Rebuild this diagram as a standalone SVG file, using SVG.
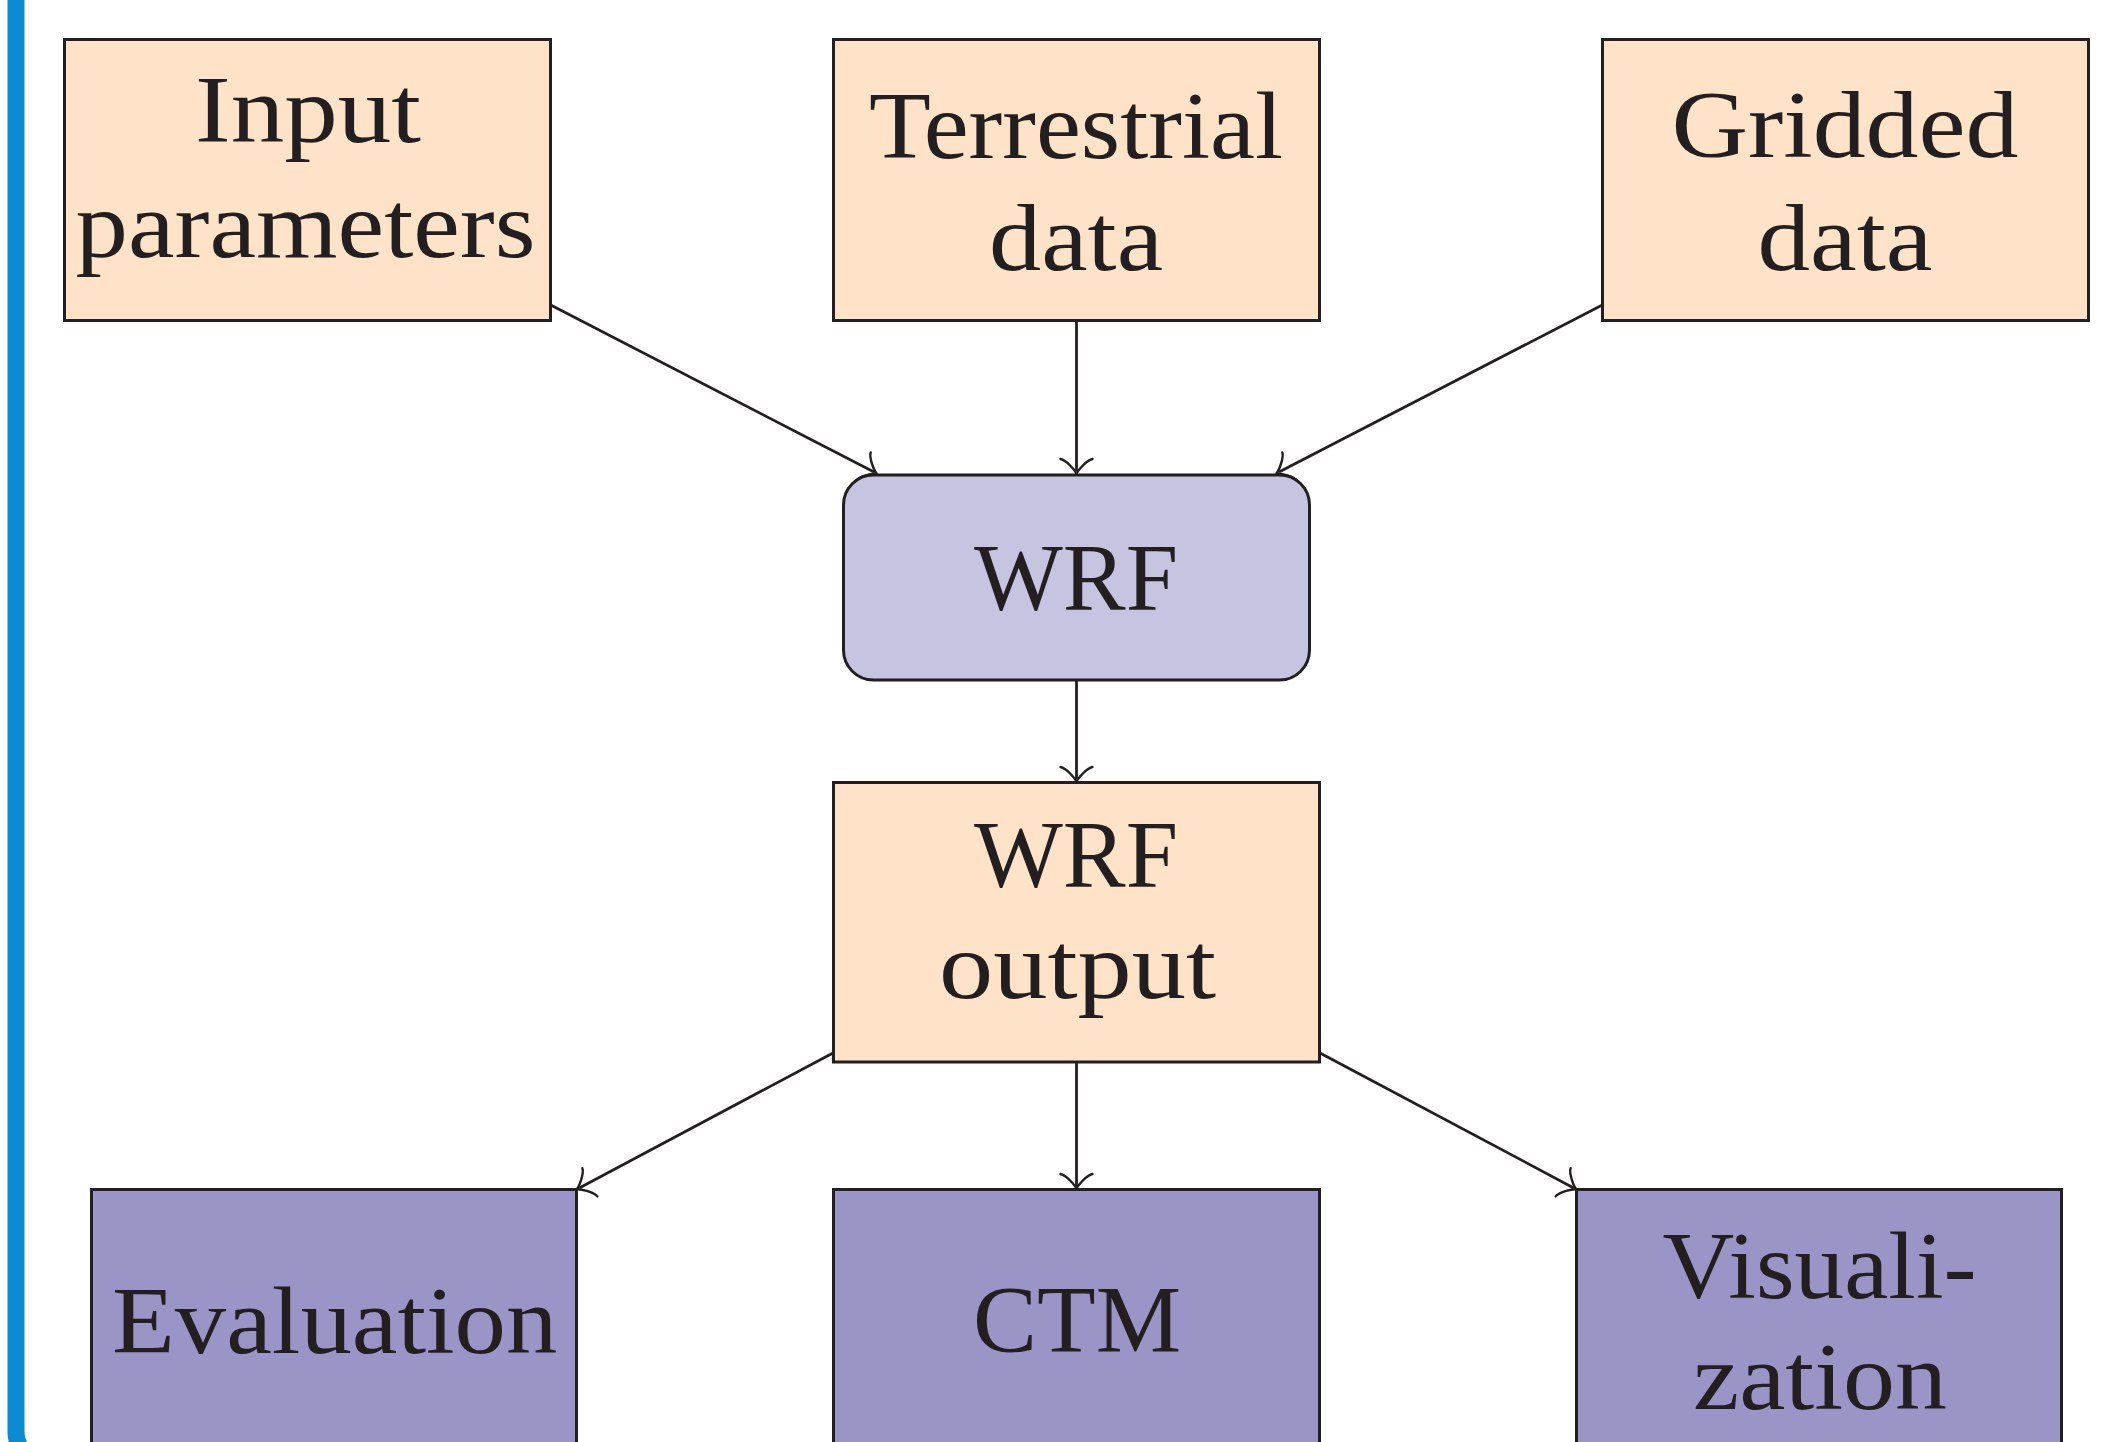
<svg xmlns="http://www.w3.org/2000/svg" width="2115" height="1442" viewBox="0 0 2115 1442">
<style>
.box{stroke:#231F20;stroke-width:3}
.in{fill:#FEE3C8}
.wrf{fill:#C7C4E2}
.out{fill:#9A94C7}
.t{font-family:"Liberation Serif","DejaVu Serif",serif;font-size:96px;fill:#231F20;text-anchor:middle}
.c{stroke:#231F20;stroke-width:2.8;fill:none;marker-end:url(#to)}
</style>
<defs>
<marker id="to" markerUnits="userSpaceOnUse" viewBox="-15 -19 20 38" refX="0" refY="0" markerWidth="20" markerHeight="38" orient="auto">
<path d="M-12,16 C-11,10 0,1 3,0 C0,-1 -11,-10 -12,-16" fill="none" stroke="#231F20" stroke-width="2.4" stroke-linecap="round" stroke-linejoin="round"/>
</marker>
</defs>
<rect width="2115" height="1442" fill="#FFFFFF"/>
<path d="M16,-10 V1432 A30,30 0 0 0 46,1462 H300" fill="none" stroke="#0D8BD0" stroke-width="17"/>
<g id="connectors">
<line class="c" x1="550.7" y1="305" x2="874.0" y2="472.1"/>
<line class="c" x1="1076.5" y1="320.5" x2="1076.5" y2="471"/>
<line class="c" x1="1602.3" y1="305" x2="1279.0" y2="472.1"/>
<line class="c" x1="1076.5" y1="680" x2="1076.5" y2="779"/>
<line class="c" x1="833.5" y1="1052.7" x2="579.3" y2="1187.9"/>
<line class="c" x1="1076.5" y1="1062" x2="1076.5" y2="1186"/>
<line class="c" x1="1319.5" y1="1052.7" x2="1573.7" y2="1187.9"/>
</g>
<g id="input-parameters">
<rect class="box in" x="64.5" y="39.5" width="486" height="281"/>
<text class="t" x="308" y="141.7" textLength="226" lengthAdjust="spacingAndGlyphs">Input</text>
<text class="t" x="305.6" y="256.7" textLength="460" lengthAdjust="spacingAndGlyphs">parameters</text>
</g>
<g id="terrestrial-data">
<rect class="box in" x="833.5" y="39.5" width="486" height="281"/>
<text class="t" x="1076" y="157.7" textLength="414" lengthAdjust="spacingAndGlyphs">Terrestrial</text>
<text class="t" x="1076" y="270" textLength="174" lengthAdjust="spacingAndGlyphs">data</text>
</g>
<g id="gridded-data">
<rect class="box in" x="1602.5" y="39.5" width="486" height="281"/>
<text class="t" x="1845" y="157.3" textLength="347" lengthAdjust="spacingAndGlyphs">Gridded</text>
<text class="t" x="1845" y="270" textLength="175" lengthAdjust="spacingAndGlyphs">data</text>
</g>
<g id="wrf">
<rect class="box wrf" x="843.5" y="475" width="466" height="205" rx="30" ry="30"/>
<text class="t" x="1076" y="610" textLength="204" lengthAdjust="spacingAndGlyphs">WRF</text>
</g>
<g id="wrf-output">
<rect class="box in" x="833.5" y="782.5" width="486" height="279.5"/>
<text class="t" x="1076" y="886.7" textLength="204" lengthAdjust="spacingAndGlyphs">WRF</text>
<text class="t" x="1077.5" y="997.7" textLength="277" lengthAdjust="spacingAndGlyphs">output</text>
</g>
<g id="evaluation">
<rect class="box out" x="91.5" y="1189.5" width="485" height="300"/>
<text class="t" x="334.7" y="1353.3" textLength="445.5" lengthAdjust="spacingAndGlyphs">Evaluation</text>
</g>
<g id="ctm">
<rect class="box out" x="833.5" y="1189.5" width="486" height="300"/>
<text class="t" x="1077" y="1352.3" textLength="208" lengthAdjust="spacingAndGlyphs">CTM</text>
</g>
<g id="visualization">
<rect class="box out" x="1576.5" y="1189.5" width="485" height="300"/>
<text class="t" x="1819.6" y="1298.3" textLength="314" lengthAdjust="spacingAndGlyphs">Visuali-</text>
<text class="t" x="1820" y="1409.3" textLength="254" lengthAdjust="spacingAndGlyphs">zation</text>
</g>
</svg>
